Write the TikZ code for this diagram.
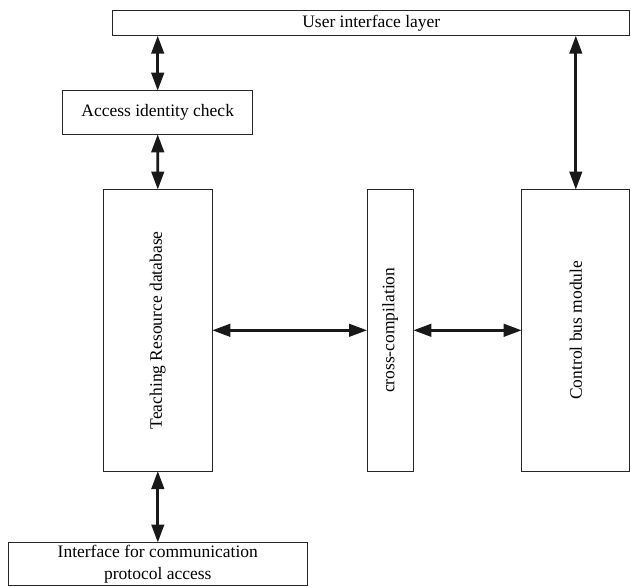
\documentclass[tikz,border=0pt]{standalone}
\usepackage{fontspec}
\setmainfont{Liberation Serif}
\usetikzlibrary{arrows.meta}
\begin{document}
\begin{tikzpicture}[x=1pt,y=-1pt,
  box/.style={draw=black!85, line width=1pt, inner sep=0pt, outer sep=0pt,
    font=\fontsize{17.5}{21.5}\selectfont, align=center, fill=white},
  biarrow/.style={line width=2.8pt, draw=black!90,
    {Triangle[length=18pt,width=12.5pt]}-{Triangle[length=18pt,width=12.5pt]}}]
\useasboundingbox (0,0) rectangle (631,586);
\node[box, minimum width=517.3pt, minimum height=25pt] (ui) at (371.3,23.2) {User interface layer};
\node[box, minimum width=190pt, minimum height=43.6pt] (acc) at (157.7,112.5) {Access identity check};
\node[box, minimum width=109pt, minimum height=281.5pt] (trd) at (157.8,330.3) {};
\node[rotate=90, font=\fontsize{17.5}{21.5}\selectfont] (trdt) at (trd.center) {Teaching Resource database};
\node[box, minimum width=46.3pt, minimum height=281.5pt] (cc) at (390.2,330.3) {};
\node[rotate=90, font=\fontsize{17.5}{21.5}\selectfont] (cct) at (cc.center) {cross-compilation};
\node[box, minimum width=108.3pt, minimum height=281.5pt] (cb) at (575.8,330.3) {};
\node[rotate=90, font=\fontsize{17.5}{21.5}\selectfont] (cbt) at (cb.center) {Control bus module};
\node[box, minimum width=299pt, minimum height=43pt] (ifc) at (157.8,564) {Interface for communication\\protocol access};
\draw[biarrow] (acc.north) -- (acc.north |- ui.south);
\draw[biarrow] (trd.north) -- (acc.south);
\draw[biarrow] (cb.north) -- (cb.north |- ui.south);
\draw[biarrow] (trd.east) -- (cc.west);
\draw[biarrow] (cc.east) -- (cb.west);
\draw[biarrow] (trd.south) -- (ifc.north);
\end{tikzpicture}
\end{document}
